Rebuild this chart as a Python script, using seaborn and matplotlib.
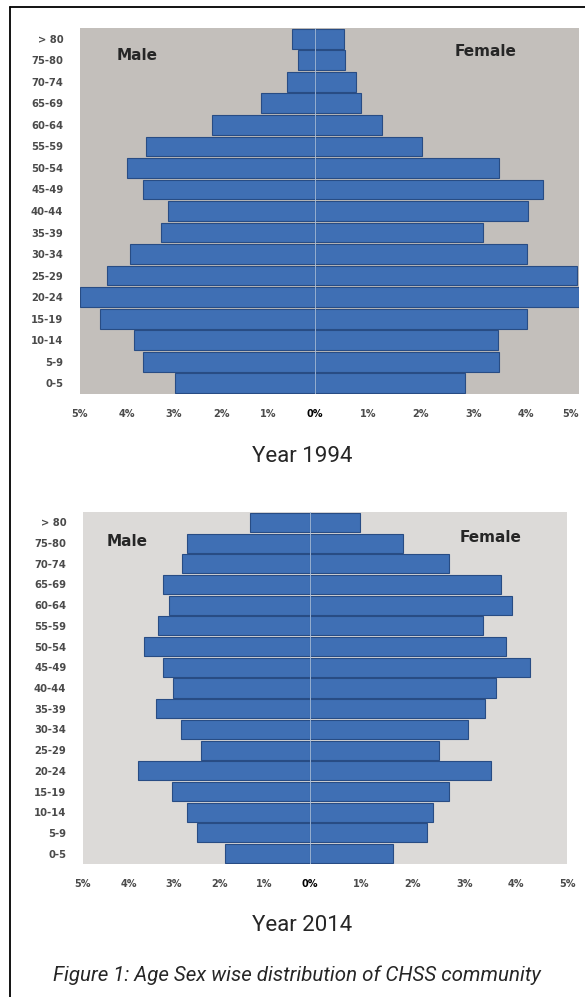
import matplotlib
matplotlib.use("Agg")
import matplotlib.pyplot as plt
import seaborn as sns
import pandas as pd
from matplotlib.lines import Line2D

# Age groups, top of the pyramid first
age_groups = ["> 80", "75-80", "70-74", "65-69", "60-64", "55-59", "50-54", "45-49",
              "40-44", "35-39", "30-34", "25-29", "20-24", "15-19", "10-14", "5-9", "0-5"]

# Share of population (%)
male_1994 = [0.49, 0.36, 0.60, 1.15, 2.19, 3.60, 4.00, 3.66, 3.13, 3.28, 3.94, 4.43, 5.00, 4.57, 3.85, 3.66, 2.98]
female_1994 = [0.55, 0.57, 0.78, 0.87, 1.27, 2.03, 3.48, 4.32, 4.03, 3.18, 4.01, 4.96, 5.00, 4.02, 3.47, 3.48, 2.84]
male_2014 = [1.32, 2.71, 2.82, 3.24, 3.11, 3.35, 3.66, 3.24, 3.02, 3.39, 2.85, 2.40, 3.78, 3.05, 2.71, 2.48, 1.87]
female_2014 = [0.97, 1.81, 2.70, 3.72, 3.93, 3.37, 3.81, 4.28, 3.62, 3.40, 3.08, 2.51, 3.53, 2.71, 2.39, 2.28, 1.62]

x_ticks = [0, 1, 2, 3, 4, 5]

sns.set_style("white")
plt.rcParams["font.family"] = ["DejaVu Sans"]

W, H = 585, 997
fig = plt.figure(figsize=(W / 100, H / 100), dpi=100)


def box(x0, y0, x1, y1):
    # pixel box (top-left origin) -> figure fraction rect
    return [x0 / W, 1 - y1 / H, (x1 - x0) / W, (y1 - y0) / H]


BAR = "#3f6fb4"
EDGE = "#284c84"
TICK_COLOR = "#4a4a4a"


def pyramid(left_box, right_box, male, female, bg):
    ax_m = fig.add_axes(box(*left_box))
    ax_f = fig.add_axes(box(*right_box))

    df_m = pd.DataFrame({"age": age_groups, "pct": male})
    df_f = pd.DataFrame({"age": age_groups, "pct": female})

    sns.barplot(data=df_m, x="pct", y="age", order=age_groups, color=BAR,
                saturation=1, width=0.92, edgecolor=EDGE, linewidth=0.8, ax=ax_m)
    sns.barplot(data=df_f, x="pct", y="age", order=age_groups, color=BAR,
                saturation=1, width=0.92, edgecolor=EDGE, linewidth=0.8, ax=ax_f)

    for ax in (ax_m, ax_f):
        ax.set_facecolor(bg)
        for s in ax.spines.values():
            s.set_visible(False)
        ax.set_xlabel("")
        ax.set_ylabel("")
        ax.tick_params(length=0)

    ax_m.set_xlim(5, 0)
    ax_f.set_xlim(0, 5)

    # center line
    ax_f.axvline(0, color="#a9c0de", lw=1.2, zorder=5)

    ax_m.set_xticks(x_ticks[1:])
    ax_m.set_xticklabels([f"{t}%" for t in x_ticks[1:]], fontsize=7,
                         fontweight="bold", color=TICK_COLOR)
    ax_f.set_xticks(x_ticks)
    ax_f.set_xticklabels([f"{t}%" for t in x_ticks], fontsize=7,
                         fontweight="bold", color=TICK_COLOR)
    ax_f.get_xticklabels()[0].set_color("black")
    ax_m.tick_params(axis="x", pad=11)
    ax_f.tick_params(axis="x", pad=11)

    ax_m.tick_params(axis="y", pad=12)
    for lab in ax_m.get_yticklabels():
        lab.set_fontsize(7.2)
        lab.set_fontweight("bold")
        lab.set_color(TICK_COLOR)
    ax_f.set_yticks([])
    return ax_m, ax_f


# === Year 1994 ===
ax_m1, ax_f1 = pyramid((80, 28, 315, 394), (315, 28, 579, 394), male_1994, female_1994, "#c3bfbb")
# last tick label sits on the figure edge; keep it inside
ax_f1.get_xticklabels()[-1].set_horizontalalignment("right")
fig.text(117 / W, 1 - 55 / H, "Male", fontsize=11, fontweight="bold", va="center")
fig.text(455 / W, 1 - 52 / H, "Female", fontsize=11, fontweight="bold", va="center")
fig.text(302 / W, 1 - 457 / H, "Year 1994", fontsize=16, ha="center", va="center",
         family="Roboto")

# === Year 2014 ===
pyramid((83, 512, 310, 864), (310, 512, 567, 864), male_2014, female_2014, "#dcdad8")
fig.text(107 / W, 1 - 542 / H, "Male", fontsize=11, fontweight="bold", va="center")
fig.text(460 / W, 1 - 537 / H, "Female", fontsize=11, fontweight="bold", va="center")
fig.text(302 / W, 1 - 925 / H, "Year 2014", fontsize=16, ha="center", va="center",
         family="Roboto")

fig.text(297 / W, 1 - 975 / H, "Figure 1: Age Sex wise distribution of CHSS community",
         fontsize=14.8, style="italic", ha="center", va="center", family="Roboto")

# outer frame (left and top edges)
fig.add_artist(Line2D([10 / W, 10 / W], [0, 1 - 7 / H], color="black", lw=1.3))
fig.add_artist(Line2D([10 / W, 1], [1 - 7 / H, 1 - 7 / H], color="black", lw=1.3))

fig.savefig("out.png", dpi=100)
